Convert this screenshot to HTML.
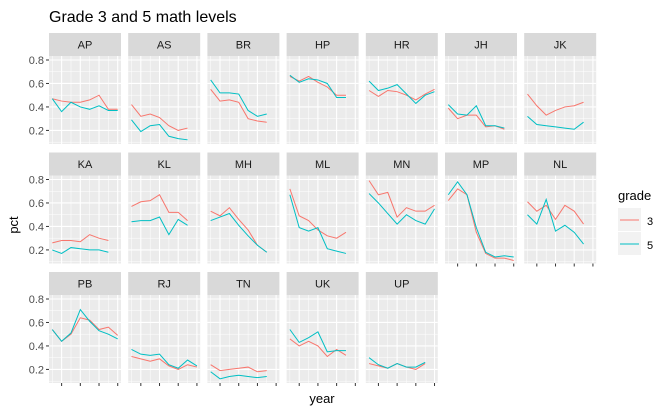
<!DOCTYPE html>
<html><head><meta charset="utf-8"><style>
html,body{margin:0;padding:0;background:#fff;}
svg{display:block;font-family:"Liberation Sans",Arial,sans-serif;}
</style></head><body>
<svg id="chart" width="670" height="414" viewBox="0 0 670 414">
<text x="49" y="22" font-size="16" fill="#000">Grade 3 and 5 math levels</text>
<text transform="translate(18,225) rotate(-90)" text-anchor="middle" font-size="13" fill="#000">pct</text>
<text x="322" y="403" text-anchor="middle" font-size="13" fill="#000">year</text>
<g>
<text x="618" y="200" font-size="13" fill="#000">grade</text>
<rect x="618" y="208" width="23" height="23" fill="#f2f2f2"/>
<line x1="620" x2="639" y1="220" y2="220" stroke="#F8766D" stroke-width="1"/>
<rect x="618" y="232" width="23" height="23" fill="#f2f2f2"/>
<line x1="620" x2="639" y1="244" y2="244" stroke="#00BFC4" stroke-width="1"/>
<text x="647" y="225" font-size="11" fill="#000">3</text>
<text x="647" y="249" font-size="11" fill="#000">5</text>
</g>
<g id="panels"></g>
</svg>
<script>
const states = ["AP","AS","BR","HP","HR","JH","JK","KA","KL","MH","ML","MN","MP","NL","PB","RJ","TN","UK","UP"];
const grade3 = [
[0.47,0.45,0.44,0.44,0.46,0.50,0.38,0.38],
[0.42,0.32,0.34,0.31,0.24,0.20,0.22],
[0.55,0.45,0.46,0.44,0.30,0.28,0.27],
[0.66,0.62,0.66,0.61,0.57,0.50,0.50],
[0.54,0.49,0.54,0.53,0.50,0.46,0.51,0.55],
[0.39,0.30,0.33,0.33,0.23,0.24,0.21],
[0.51,0.41,0.33,0.37,0.40,0.41,0.44],
[0.26,0.28,0.28,0.27,0.33,0.30,0.28],
[0.57,0.61,0.62,0.67,0.52,0.52,0.45],
[0.53,0.49,0.56,0.46,0.37,0.24,0.18],
[0.72,0.49,0.45,0.37,0.32,0.30,0.35],
[0.79,0.67,0.69,0.48,0.56,0.53,0.53,0.58],
[0.62,0.72,0.67,0.35,0.17,0.13,0.13,0.11],
[0.61,0.53,0.58,0.46,0.58,0.53,0.42],
[0.54,0.44,0.50,0.64,0.62,0.54,0.56,0.49],
[0.31,0.29,0.27,0.29,0.23,0.20,0.24,0.22],
[0.24,0.19,0.20,0.21,0.22,0.18,0.19],
[0.46,0.40,0.44,0.40,0.31,0.37,0.32],
[0.25,0.23,0.21,0.25,0.22,0.20,0.25]
];
const grade5 = [
[0.47,0.36,0.44,0.40,0.38,0.41,0.37,0.37],
[0.29,0.19,0.24,0.25,0.15,0.13,0.12],
[0.63,0.52,0.52,0.51,0.37,0.32,0.34],
[0.67,0.61,0.64,0.63,0.60,0.48,0.48],
[0.62,0.54,0.56,0.59,0.51,0.43,0.50,0.53],
[0.42,0.34,0.33,0.41,0.24,0.24,0.22],
[0.32,0.25,0.24,0.23,0.22,0.21,0.27],
[0.20,0.17,0.22,0.21,0.20,0.20,0.18],
[0.44,0.45,0.45,0.48,0.33,0.46,0.41],
[0.45,0.48,0.51,0.41,0.32,0.24,0.18],
[0.67,0.39,0.36,0.39,0.21,0.19,0.17],
[0.68,0.60,0.51,0.42,0.50,0.45,0.42,0.55],
[0.67,0.78,0.67,0.39,0.18,0.14,0.15,0.14],
[0.50,0.42,0.63,0.36,0.41,0.35,0.25],
[0.54,0.44,0.51,0.71,0.61,0.53,0.50,0.46],
[0.37,0.33,0.32,0.33,0.24,0.21,0.28,0.23],
[0.18,0.12,0.14,0.15,0.14,0.13,0.14],
[0.54,0.43,0.47,0.52,0.35,0.36,0.36],
[0.30,0.24,0.21,0.25,0.22,0.22,0.26]
];
const yTicks = [0.2,0.4,0.6,0.8];
const yTickLabels = ["0.2","0.4","0.6","0.8"];
const xTicks = [1,3,5,7];

const NS="http://www.w3.org/2000/svg";
const g=document.getElementById('panels');
const PW=72, PH=88, COL0=49, COLSTEP=79.2, ROW0=56, ROWSTEP=119.5, STRIP=23;
const YMIN=0.0843, YMAX=0.834, XMIN=-0.35, XMAX=7.35;
function mk(t,a){const e=document.createElementNS(NS,t);for(const k in a)e.setAttribute(k,a[k]);return e;}
function sx(x0,v){return x0+(v-XMIN)/(XMAX-XMIN)*PW;}
function sy(y0,v){return y0+PH-(v-YMIN)/(YMAX-YMIN)*PH;}
const nCols=7;
states.forEach((st,i)=>{
  const c=i%nCols, r=Math.floor(i/nCols);
  const x0=COL0+c*COLSTEP, y0=ROW0+r*ROWSTEP;
  const pg=mk('g',{});
  
  
  const strip=mk('rect',{x:x0,y:y0-STRIP,width:PW,height:STRIP,fill:'#d9d9d9'});
  
  
  pg.appendChild(strip);
  const st_t=mk('text',{x:x0+PW/2,y:y0-STRIP/2+4,'text-anchor':'middle','font-size':'11',fill:'#1a1a1a'});
  st_t.textContent=st;
  
  
  pg.appendChild(st_t);
  const bg=mk('rect',{x:x0,y:y0,width:PW,height:PH,fill:'#ebebeb'});
  
  
  pg.appendChild(bg);
  [0.1,0.3,0.5,0.7].forEach(v=>{const yy=sy(y0,v);if(yy>=y0&&yy<=y0+PH)pg.appendChild(mk('line',{x1:x0,x2:x0+PW,y1:yy,y2:yy,stroke:'#fff','stroke-width':0.5}));});
  [0,2,4,6].forEach(v=>{const xx=sx(x0,v);pg.appendChild(mk('line',{x1:xx,x2:xx,y1:y0,y2:y0+PH,stroke:'#fff','stroke-width':0.5}));});
  yTicks.forEach(v=>{const yy=sy(y0,v);pg.appendChild(mk('line',{x1:x0,x2:x0+PW,y1:yy,y2:yy,stroke:'#fff','stroke-width':1.1}));});
  xTicks.forEach(v=>{const xx=sx(x0,v);pg.appendChild(mk('line',{x1:xx,x2:xx,y1:y0,y2:y0+PH,stroke:'#fff','stroke-width':1.1}));});
  [[grade3[i],'#F8766D','grade-3-line'],[grade5[i],'#00BFC4','grade-5-line']].forEach(([d,col,nm])=>{
    const pts=d.map((v,k)=>sx(x0,k).toFixed(2)+','+sy(y0,v).toFixed(2)).join(' ');
    const pl=mk('polyline',{points:pts,fill:'none',stroke:col,'stroke-width':1});
    
    
    pg.appendChild(pl);
  });
  if(c===0){
    yTicks.forEach((v,k)=>{const yy=sy(y0,v);
      pg.appendChild(mk('line',{x1:x0-3,x2:x0,y1:yy,y2:yy,stroke:'#333','stroke-width':1}));
      const t=mk('text',{x:x0-5,y:yy+4,'text-anchor':'end','font-size':'11',fill:'#4d4d4d'});
      t.textContent=yTickLabels[k];
      
      
      pg.appendChild(t);});
  }
  const below=i+nCols;
  if(below>=states.length){
    xTicks.forEach(v=>{const xx=sx(x0,v);pg.appendChild(mk('line',{x1:xx,x2:xx,y1:y0+PH,y2:y0+PH+3,stroke:'#333','stroke-width':1}));});
  }
  g.appendChild(pg);
});
</script>
</body></html>
